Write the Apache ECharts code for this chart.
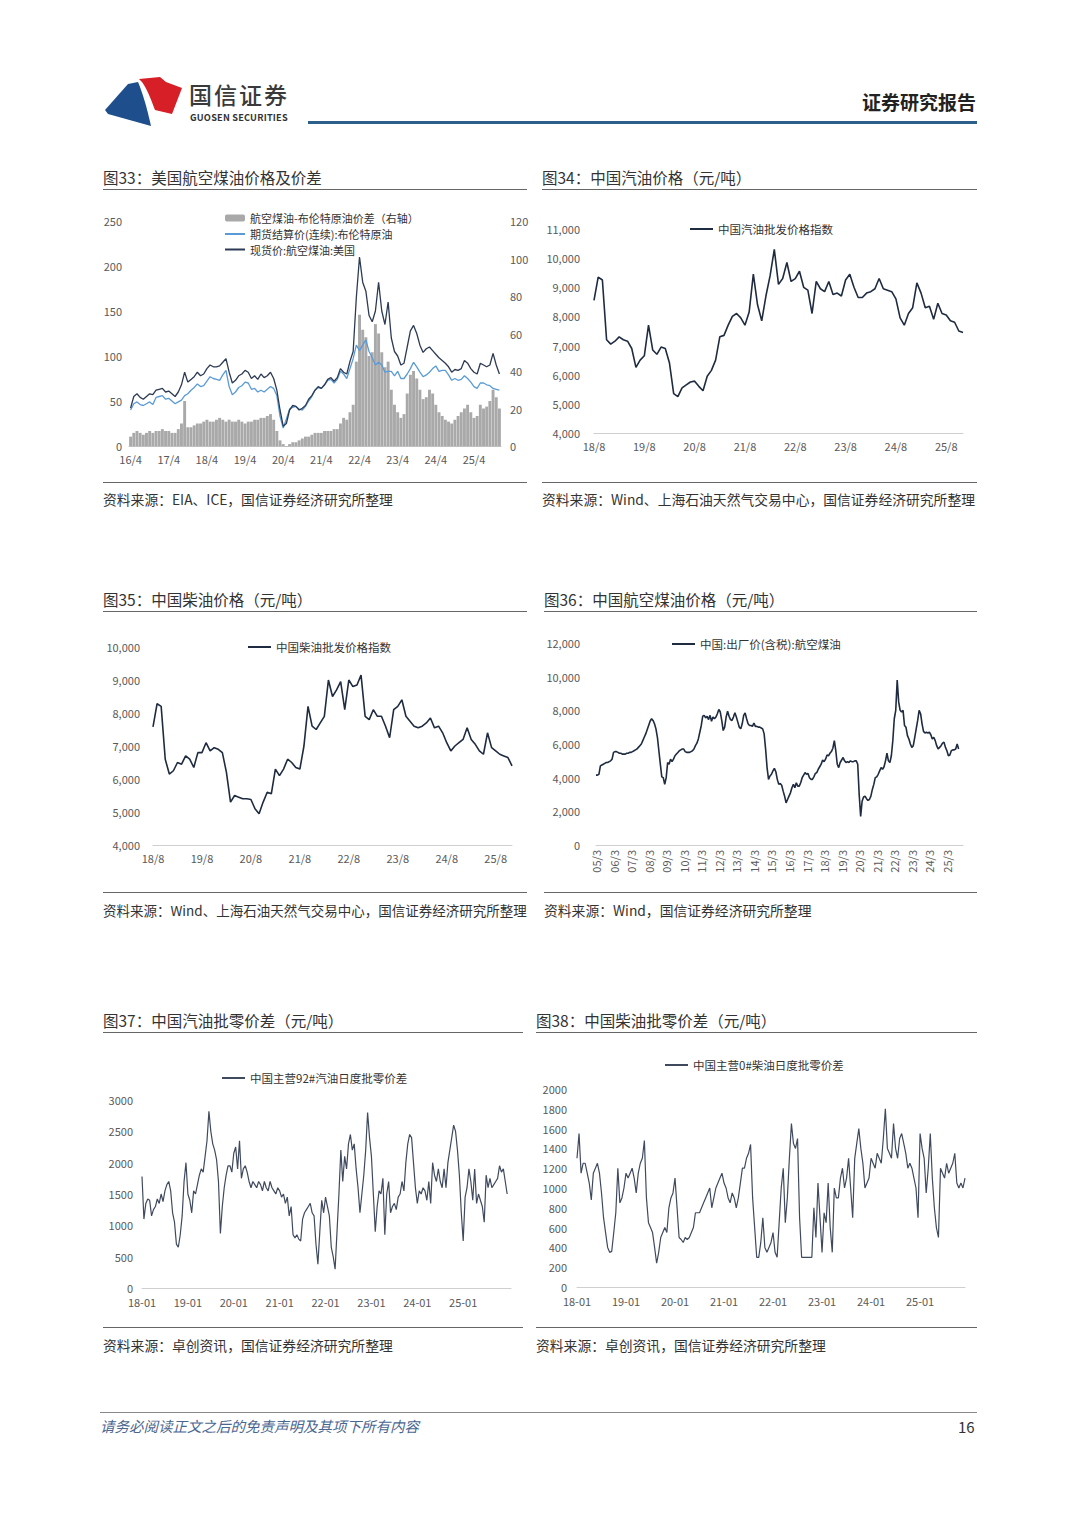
<!DOCTYPE html>
<html><head><meta charset="utf-8">
<script src="https://cdn.jsdelivr.net/npm/echarts@6/dist/echarts.min.js"></script>
<style>
body{margin:0;background:#fff;width:1080px;height:1527px;position:relative;font-family:"Noto Sans CJK SC","Noto Sans",sans-serif;color:#333;overflow:hidden}
.a{position:absolute;white-space:nowrap}
.t{font-size:15.5px;color:#333;line-height:20px}
.r{position:absolute;height:0;border-top:1.5px solid #666}
.s{font-size:13.8px;color:#333;line-height:18px}
.c{position:absolute}
</style></head><body>
<svg class="a" style="left:100px;top:72px" width="90" height="56" viewBox="0 0 90 56">
 <path d="M5,38 L28,12 L38,10 C43,22 47,36 51,54 L8,42 Z" fill="#1f4e8c"/>
 <path d="M39,7 L60,5 L66,10 L82,16 L72,42 L55,38 C51,27 47,17 42,10 Z" fill="#d61f26"/>
</svg>
<div class="a" style="left:189px;top:83px;font-size:23px;line-height:23px;letter-spacing:2px;color:#3a3a3a;font-weight:500">国信证券</div>
<div class="a" style="left:190px;top:113px;font-size:9.2px;line-height:9px;color:#333;font-weight:700;letter-spacing:0.2px">GUOSEN SECURITIES</div>
<div class="a" style="left:862px;top:90px;font-size:19px;line-height:24px;color:#222;font-weight:700">证券研究报告</div>
<div class="a" style="left:308px;top:121px;width:669px;height:3px;background:#2d5f8b"></div>

<div class="a t" style="left:103px;top:167px">图33：美国航空煤油价格及价差</div>
<div class="a t" style="left:542px;top:167px">图34：中国汽油价格（元/吨）</div>
<div class="r" style="left:103px;top:189px;width:424px"></div>
<div class="r" style="left:542px;top:189px;width:435px"></div>
<div class="r" style="left:103px;top:482px;width:424px"></div>
<div class="r" style="left:542px;top:482px;width:435px"></div>
<div class="a s" style="left:103px;top:490px">资料来源：EIA、ICE，国信证券经济研究所整理</div>
<div class="a s" style="left:542px;top:490px">资料来源：Wind、上海石油天然气交易中心，国信证券经济研究所整理</div>

<div class="a t" style="left:103px;top:589px">图35：中国柴油价格（元/吨）</div>
<div class="a t" style="left:544px;top:589px">图36：中国航空煤油价格（元/吨）</div>
<div class="r" style="left:103px;top:611px;width:424px"></div>
<div class="r" style="left:544px;top:611px;width:433px"></div>
<div class="r" style="left:103px;top:892px;width:424px"></div>
<div class="r" style="left:544px;top:892px;width:433px"></div>
<div class="a s" style="left:103px;top:901px;font-size:13.5px">资料来源：Wind、上海石油天然气交易中心，国信证券经济研究所整理</div>
<div class="a s" style="left:544px;top:901px">资料来源：Wind，国信证券经济研究所整理</div>

<div class="a t" style="left:103px;top:1010px">图37：中国汽油批零价差（元/吨）</div>
<div class="a t" style="left:536px;top:1010px">图38：中国柴油批零价差（元/吨）</div>
<div class="r" style="left:103px;top:1032px;width:420px"></div>
<div class="r" style="left:536px;top:1032px;width:441px"></div>
<div class="r" style="left:103px;top:1327px;width:420px"></div>
<div class="r" style="left:536px;top:1327px;width:441px"></div>
<div class="a s" style="left:103px;top:1336px">资料来源：卓创资讯，国信证券经济研究所整理</div>
<div class="a s" style="left:536px;top:1336px">资料来源：卓创资讯，国信证券经济研究所整理</div>

<div class="r" style="left:100px;top:1412px;width:877px;border-color:#888"></div>
<div class="a" style="left:100px;top:1416px;font-size:14.5px;line-height:19px;color:#4a6690;font-style:italic">请务必阅读正文之后的免责声明及其项下所有内容</div>
<div class="a" style="left:958px;top:1417px;font-size:15px;line-height:20px;color:#333">16</div>

<div id="c33" class="c" style="left:100px;top:200px;width:440px;height:275px"></div>
<div id="c34" class="c" style="left:540px;top:200px;width:440px;height:260px"></div>
<div id="c35" class="c" style="left:100px;top:620px;width:440px;height:260px"></div>
<div id="c36" class="c" style="left:540px;top:620px;width:440px;height:270px"></div>
<div id="c37" class="c" style="left:100px;top:1040px;width:440px;height:280px"></div>
<div id="c38" class="c" style="left:530px;top:1040px;width:450px;height:280px"></div>

<script>
// ---------- DATA ----------
// Fig 33 (monthly, 2016-04 .. 2025-12), USD/bbl
const spread33 = [5,7,8,7,6,7,8,7,8,
 8,9,8,8,7,7,9,12,24,10,10,11,
 12,12,13,14,13,13,14,15,14,13,14,13,
 13,14,13,12,13,13,14,14,15,15,16,17,
 14,8,3,1,0,1,2,2,3,4,5,5,
 6,7,7,7,8,8,8,9,9,12,15,14,
 18,22,45,70,62,58,48,50,65,60,50,42,
 45,30,22,18,15,17,28,38,40,36,30,25,
 26,30,28,22,18,16,14,13,12,14,16,18,
 20,22,18,15,16,22,20,21,24,30,26,20];
const brent33 = [40,47,49,46,45,47,49,46,54,
 55,56,52,53,50,47,49,51,56,58,62,65,
 69,66,67,72,77,75,74,73,79,84,66,57,
 60,65,67,71,70,63,64,60,62,60,63,66,
 64,56,33,20,30,41,43,44,41,40,44,50,
 55,62,65,64,68,73,74,70,74,83,80,75,
 86,97,112,106,112,118,105,98,90,93,90,82,
 83,83,78,83,75,75,80,86,93,88,82,77,
 79,82,86,89,83,84,84,79,73,75,73,74,
 78,75,71,66,64,70,70,68,67,64,63,62];
const jet33 = [42,55,58,54,52,55,58,57,62,
 63,64,60,61,58,55,60,68,82,71,74,77,
 82,78,80,86,90,88,88,89,93,97,82,70,
 73,78,80,84,82,75,78,74,80,76,78,82,
 75,62,40,22,25,40,45,44,40,42,45,52,
 56,62,66,64,68,74,76,72,76,86,82,80,
 94,105,165,210,182,172,145,138,150,182,150,135,
 160,120,105,100,90,92,110,128,134,125,112,104,
 108,110,106,102,98,95,92,88,82,85,84,86,
 95,92,86,82,80,92,90,88,90,103,90,80];
// Fig 34 gasoline wholesale index (monthly, 2018-08 .. 2025-12)
const gas34 = [8550,9350,9250,7200,7050,
 7150,7300,7200,7150,6900,6250,6500,6650,7700,6850,6700,6950,
 6900,6400,5350,5250,5550,5650,5750,5780,5600,5450,5950,6150,
 6500,7300,7350,7700,8000,8100,7950,7700,8150,9450,8400,7850,
 8700,9400,10300,9100,9300,9850,9200,9300,9550,9000,8900,8100,
 9200,8950,8850,9200,8750,8800,8700,9250,9450,9000,8650,8650,
 8800,8850,8950,9300,8950,8900,8850,8600,7950,7700,8100,8300,
 9150,8800,8300,8350,7900,8450,8100,8050,7850,7800,7500,7450];
// Fig 35 diesel wholesale index (monthly, 2018-08 .. 2025-12)
const dsl35 = [7580,8280,8200,6600,6150,
 6250,6500,6450,6700,6600,6350,6800,6800,7100,6850,6950,6900,
 6800,6200,5300,5500,5450,5400,5400,5380,5100,4950,5300,5600,
 5550,6300,6100,6300,6600,6500,6350,6300,7000,8200,7600,7500,
 7700,7900,9000,8500,8700,8950,8100,9000,8800,8850,9150,7900,
 7800,8100,7900,7900,7600,7250,8100,8200,8400,7900,7750,7600,
 7550,7600,7700,7850,7550,7600,7400,7100,6850,7000,7100,7200,
 7550,7200,7050,6850,6750,7400,6950,6850,6750,6700,6650,6400];
// Fig 36 jet fuel ex-factory price (monthly, 2005-03 .. 2025-11)
const jet36 = [4150,4150,4200,4700,4750,4800,4850,4900,4900,4950,
 5000,5100,5500,5550,5550,5500,5450,5450,5400,5400,5400,5450,
 5450,5500,5500,5550,5600,5650,5700,5800,5900,6000,6200,6400,
 6600,6850,7100,7350,7500,7400,7200,6900,6400,5600,4800,4050,
 4000,3600,4000,4900,4800,5100,4950,5100,5300,5400,5500,5600,
 5650,5700,5700,5550,5500,5500,5500,5550,5600,5700,5900,6050,
 6300,6700,7100,7650,7700,7550,7650,7450,7700,7350,7600,7500,
 7600,7800,8050,7900,7400,6800,7000,7600,7950,7650,7450,7400,
 7600,7850,7600,7300,7000,6900,7200,7700,7850,7500,7200,7100,
 7100,7050,7250,7050,7050,7000,7000,6950,6900,6600,5700,4600,
 3900,4100,4200,4400,4550,4350,3900,3600,3650,3550,3200,2900,
 2500,2700,2900,3100,3400,3600,3400,3700,3500,3500,3700,4000,
 4150,4300,4200,4250,4000,3900,3900,4050,4250,4300,4500,4650,
 4800,5050,4950,5100,5350,5300,5450,5550,5750,6200,5600,4800,
 4600,4900,5050,5200,5000,4900,4950,4900,5000,4950,4950,5000,
 5000,4800,3000,1700,2600,2850,2900,2750,2650,2700,2900,3300,
 3600,4000,4050,4200,4400,4600,4500,4650,5000,5450,5000,4900,
 5300,6200,7500,8000,9800,8500,8000,7900,8000,7100,7000,6500,
 6300,6000,5800,5900,6400,6900,7400,8000,7800,7200,6750,6650,
 6700,6650,6700,6550,6300,6400,6200,5900,5700,5800,5900,6050,
 6100,5800,5600,5300,5350,5600,5650,5650,5700,6000,5700];
// Fig 37 gasoline wholesale-retail spread (half-monthly, 2018-01 .. 2025-12)
const gas37 = [1780,1100,1350,1420,1400,1150,1250,1300,1420,1350,1500,1380,1550,1650,1700,1550,1200,1050,700,650,850,1150,1700,2000,
 1500,1400,1200,1550,1500,1650,1800,1900,1850,2100,2350,2820,2500,2300,2200,2050,1700,870,1300,1600,1800,1950,1950,1850,
 2150,2250,1900,2350,1750,1900,1950,1850,1700,1600,1700,1650,1600,1700,1650,1550,1700,1600,1550,1700,1600,1550,1500,1600,
 1550,1450,1500,1350,1450,1150,1300,850,800,850,780,750,1100,1200,1250,1300,1350,1200,1150,700,380,900,1400,1200,
 1450,1300,1150,650,500,300,900,1500,2200,1700,2100,1900,2300,2450,2200,2300,1900,1600,1200,1500,1800,2200,2800,2400,
 2100,1500,900,1300,1550,1500,1750,850,1500,1700,1200,1300,1350,1250,1450,1500,1700,1550,2000,2300,2450,2400,2000,1600,
 1350,1550,1500,1600,1550,1400,1700,1350,2000,1800,1700,1900,1700,1600,1900,1600,2000,2200,2400,2600,2500,2200,1800,1200,
 750,1450,1600,1900,1700,1400,1900,1350,1500,1400,1300,1050,1800,1600,1750,1600,1650,1700,1750,1950,1850,1900,1700,1500];
// Fig 38 diesel wholesale-retail spread (half-monthly, 2018-01 .. 2025-11)
const dsl38 = [1300,1550,1150,1250,1250,1150,1050,880,1150,1200,1250,1150,950,700,550,400,350,360,550,750,1200,850,900,1000,
 1150,1100,1150,1200,1100,950,1150,1250,1300,1480,900,650,600,550,400,240,350,500,550,600,550,800,900,950,
 1100,800,500,480,450,500,480,500,550,600,750,750,750,800,850,900,950,1000,800,900,1000,1050,1100,1150,
 1050,1000,900,850,950,900,800,900,1050,1200,1200,1300,1350,1440,900,600,300,300,450,700,400,350,400,450,
 550,350,300,650,1000,1200,650,900,1300,1650,1450,1400,1500,700,300,300,300,300,300,300,800,500,1050,700,
 350,750,650,1050,600,350,1000,900,900,1100,1200,1000,1100,1300,1000,700,1300,1450,1600,1400,1250,1000,1050,1100,
 1300,1250,1200,1350,1300,1250,1500,1800,1400,1350,1300,1650,1400,1300,1500,1550,1450,1350,1200,1250,1200,1100,1000,700,
 1550,1400,1300,950,1200,1550,1100,800,600,500,1200,1150,1100,1250,1150,1200,1250,1350,1050,1000,1050,1000,1100];

// ---------- CATEGORIES ----------
function months(y0,m0,y1,m1){const a=[];let y=y0,m=m0;while(y<y1||(y===y1&&m<=m1)){a.push(y+'-'+m);m++;if(m>12){m=1;y++;}}return a;}
function halves(n){const a=[];let y=2018,m=1,h=1;for(let i=0;i<n;i++){a.push(y+'-'+String(m).padStart(2,'0')+'-'+h);if(h===1)h=16;else{h=1;m++;if(m>12){m=1;y++;}}}return a;}
const cats33 = months(2016,4,2025,12);
const cats34 = months(2018,8,2025,12);
const cats35 = months(2018,8,2025,12);
const cats36 = months(2005,3,2026,2);
const cats37 = halves(194);
const cats38 = halves(191);
const slashFmt = v => v.slice(2,4)+'/'+v.split('-')[1];
const dashFmt = v => v.startsWith('2026') ? '' : v.slice(2,7);
const thouFmt = v => Number(v).toLocaleString('en-US');
const plainFmt = v => String(v);

// ---------- CHARTS ----------
const FONT = '"Noto Sans CJK SC","Noto Sans",sans-serif';
const LBL = {color:'#595959',fontSize:11,lineHeight:12,fontFamily:FONT};
const LEG = {color:'#333',fontSize:11.5,lineHeight:14,fontFamily:FONT};
function init(id){return echarts.init(document.getElementById(id),null,{renderer:'svg'});}
function xCat(data,interval,fmt,margin,extra){return Object.assign({type:'category',data:data,boundaryGap:false,
  axisLine:{lineStyle:{color:'#cfcfcf',width:1}},axisTick:{show:false},splitLine:{show:false},
  axisLabel:Object.assign({interval:interval,formatter:fmt,margin:margin},LBL)},extra||{});}
function yVal(min,max,step,margin,fmt,extra){return Object.assign({type:'value',min:min,max:max,interval:step,
  axisLine:{show:false},axisTick:{show:false},splitLine:{show:false},
  axisLabel:Object.assign({margin:margin,formatter:fmt},LBL)},extra||{});}
function lineSeries(name,data,color,w){return {name:name,type:'line',data:data,symbol:'none',
  lineStyle:{color:color,width:w},itemStyle:{color:color},animation:false};}
function legend(left,top){return {left:left,top:top,padding:0,icon:'rect',itemWidth:23,itemHeight:2,itemGap:6,textStyle:LEG,selectedMode:false};}

// Fig 33
init('c33').setOption({animation:false,
  grid:{left:29,top:21,width:372,height:225},
  legend:[
    {left:125,top:11,padding:0,itemWidth:20,itemHeight:7,textStyle:Object.assign({},LEG,{fontSize:11}),selectedMode:false,
     data:['航空煤油-布伦特原油价差（右轴）']},
    {orient:'vertical',left:125,top:27,padding:0,icon:'rect',itemWidth:20,itemHeight:2,itemGap:1.5,
     textStyle:Object.assign({},LEG,{fontSize:11}),selectedMode:false,
     data:['期货结算价(连续):布伦特原油','现货价:航空煤油:美国']}],
  xAxis:xCat(cats33,11,slashFmt,7,{boundaryGap:true,axisLine:{lineStyle:{color:'#bfbfbf'}}}),
  yAxis:[yVal(0,250,50,7),yVal(0,120,20,9,undefined,{position:'right'})],
  series:[
    {name:'航空煤油-布伦特原油价差（右轴）',type:'bar',yAxisIndex:1,data:spread33,barCategoryGap:'8%',
      itemStyle:{color:'#a9a9a9'},animation:false},
    lineSeries('期货结算价(连续):布伦特原油',brent33,'#5b9bd5',1.3),
    lineSeries('现货价:航空煤油:美国',jet33,'#2c3a54',1.3)
  ]});

// Fig 34
init('c34').setOption({animation:false,
  grid:{left:54,top:29,width:369,height:204},
  legend:legend(150,22),
  xAxis:xCat(cats34,11,slashFmt,7),
  yAxis:yVal(4000,11000,1000,14,thouFmt),
  series:[lineSeries('中国汽油批发价格指数',gas34,'#1e2b40',1.6)]});

// Fig 35
init('c35').setOption({animation:false,
  grid:{left:53,top:27,width:359,height:198},
  legend:legend(148,20),
  xAxis:xCat(cats35,11,slashFmt,7),
  yAxis:yVal(4000,10000,1000,13,thouFmt),
  series:[lineSeries('中国柴油批发价格指数',dsl35,'#1e2b40',1.6)]});

// Fig 36
init('c36').setOption({animation:false,
  grid:{left:56,top:23,width:367,height:202},
  legend:legend(132,17),
  xAxis:xCat(cats36,11,slashFmt,5,{axisLabel:Object.assign({},LBL,{interval:11,formatter:slashFmt,margin:5,rotate:90})}),
  yAxis:yVal(0,12000,2000,16,thouFmt),
  series:[lineSeries('中国:出厂价(含税):航空煤油',jet36,'#1e2b40',1.6)]});

// Fig 37
init('c37').setOption({animation:false,
  grid:{left:42,top:60,width:369,height:188},
  legend:legend(122,31),
  xAxis:xCat(cats37,23,dashFmt,8),
  yAxis:yVal(0,3000,500,9,plainFmt),
  series:[lineSeries('中国主营92#汽油日度批零价差',gas37,'#3f4a5f',1.2)]});

// Fig 38
init('c38').setOption({animation:false,
  grid:{left:47,top:49,width:388,height:198},
  legend:legend(135,18),
  xAxis:xCat(cats38,23,dashFmt,8),
  yAxis:yVal(0,2000,200,10,plainFmt),
  series:[lineSeries('中国主营0#柴油日度批零价差',dsl38,'#3f4a5f',1.2)]});
</script>
</body></html>
